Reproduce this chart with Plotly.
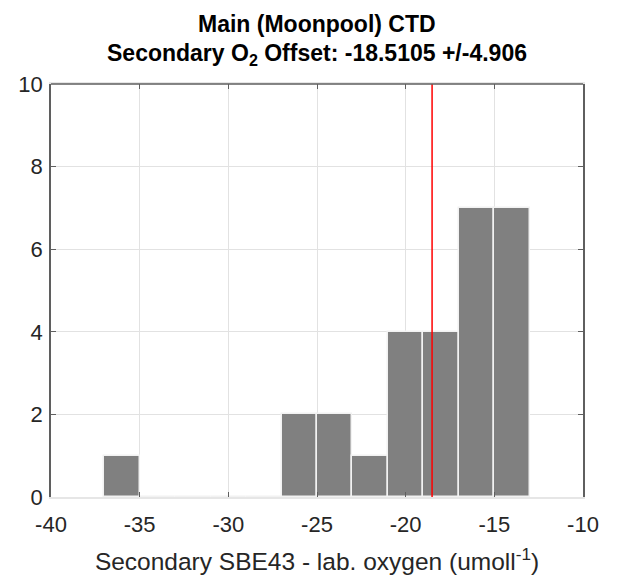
import plotly.graph_objects as go

# histogram of secondary SBE43 minus lab oxygen, 2 umol/l bins
bin_left = [-37, -35, -33, -31, -29, -27, -25, -23, -21, -19, -17, -15]
bin_width = 2
counts = [1, 0, 0, 0, 0, 2, 2, 1, 4, 4, 7, 7]

offset_mean = -18.5105
offset_std = 4.906

x_ticks = [-40, -35, -30, -25, -20, -15, -10]
x_ticklabels = ["-40", "-35", "-30", "-25", "-20", "-15", "-10"]
y_ticks = [0, 2, 4, 6, 8, 10]

FONT = "Liberation Sans, Arial, sans-serif"
FRAME = "#5f5f5f"

bin_centers = [b + bin_width / 2 for b in bin_left]

fig = go.Figure()
fig.add_trace(go.Bar(
    x=bin_centers, y=counts, width=bin_width,
    marker=dict(color="#808080", line=dict(color="#f2f2f2", width=1.5)),
    showlegend=False, hoverinfo="x+y",
))

# mean offset marker
fig.add_vline(x=offset_mean, line=dict(color="#ff0000", width=1.5), layer="above")

# top frame line is dark, bottom one is pale in the original
fig.add_shape(type="line", xref="x domain", yref="y domain", x0=0, x1=1, y0=1, y1=1,
              line=dict(color=FRAME, width=1.5), layer="above")

fig.add_annotation(text="<b>Main (Moonpool) CTD</b>", xref="paper", yref="paper",
                   x=0.5, y=1.146, yanchor="middle", showarrow=False,
                   font=dict(family=FONT, size=23, color="#000000"))
fig.add_annotation(text="<b>Secondary O<sub>2</sub> Offset: %.4f +/-%.3f</b>" % (offset_mean, offset_std),
                   xref="paper", yref="paper", x=0.5, y=1.0715, yanchor="middle",
                   showarrow=False, font=dict(family=FONT, size=23, color="#000000"))

# page body has an 8px margin, so the figure is a bit smaller than the window
fig.update_layout(
    width=611, height=573,
    margin=dict(l=43, r=36, t=76, b=84, autoexpand=False),
    paper_bgcolor="white", plot_bgcolor="white",
    bargap=0,
    font=dict(family=FONT, size=22, color="#262626"),
    xaxis=dict(
        range=[-40, -10], tickvals=x_ticks, ticktext=x_ticklabels,
        showgrid=True, gridcolor="#e2e2e2", gridwidth=1, zeroline=False,
        showline=True, linecolor="#e6e6e6", linewidth=1.5, mirror="ticks",
        ticks="inside", ticklen=5, tickcolor=FRAME, tickwidth=1,
        ticklabelstandoff=7, automargin=False,
        title=dict(text="Secondary SBE43 - lab. oxygen (umoll<sup>-1</sup>)",
                   font=dict(size=24.5, color="#262626"), standoff=17),
    ),
    yaxis=dict(
        range=[0, 10], tickvals=y_ticks,
        showgrid=True, gridcolor="#e2e2e2", gridwidth=1, zeroline=False,
        showline=True, linecolor=FRAME, linewidth=1.5, mirror="ticks",
        ticks="inside", ticklen=5, tickcolor=FRAME, tickwidth=1,
        ticklabelstandoff=2, automargin=False,
    ),
)

fig.write_html("out.html")
